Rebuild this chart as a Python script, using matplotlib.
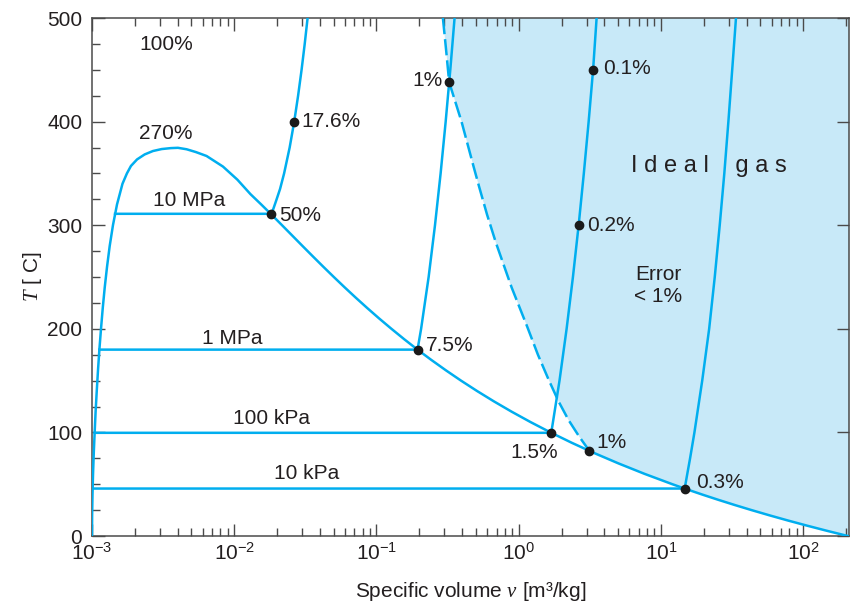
import numpy as np
import matplotlib
matplotlib.use('Agg')
import matplotlib.pyplot as plt
from matplotlib.ticker import LogLocator, MultipleLocator, NullFormatter

plt.rcParams['font.family'] = ['Liberation Sans', 'DejaVu Sans']
plt.rcParams['mathtext.fontset'] = 'custom'
plt.rcParams['mathtext.rm'] = 'Liberation Sans'
plt.rcParams['mathtext.it'] = 'Liberation Serif:italic'

# ---------------- data ----------------
# saturated liquid line (T [C], v [m3/kg])
liq_T = [0, 20, 40, 60, 80, 100, 120, 140, 160, 180, 200, 220, 240, 260, 280, 300, 320, 340,
         350, 357.2, 363.5, 368.3, 371.6, 373.5, 374.4, 374.7]
liq_v = [0.001000, 0.001002, 0.001008, 0.001017, 0.001029, 0.001044, 0.001060, 0.001080, 0.001102,
         0.001127, 0.001157, 0.001190, 0.001229, 0.001276, 0.001332, 0.001404, 0.001499, 0.001638,
         0.00176, 0.001879, 0.002074, 0.002345, 0.002682, 0.003091, 0.003576, 0.004018]
# saturated vapour line
vap_T = [373.3, 370.6, 366.8, 356.6, 343.9, 330, 320, 310, 300, 290, 280, 270, 260, 250,
         240, 230, 220, 210, 200, 190, 180, 170, 160, 150, 140, 130, 120, 110, 100, 90, 82.2, 80,
         70, 60, 50, 45.8, 40, 35, 30, 25, 20, 15, 10, 5, 0]
vap_v = [0.004624, 0.005374, 0.006390, 0.008331, 0.010531, 0.01300, 0.01548,
         0.01835, 0.02167, 0.02557, 0.03017, 0.03565, 0.04221, 0.05013, 0.05976, 0.07158, 0.08619,
         0.1044, 0.1274, 0.1565, 0.1939, 0.2428, 0.3071, 0.3928, 0.5089, 0.6685, 0.8919, 1.2102,
         1.6729, 2.3593, 3.14, 3.4053, 5.0422, 7.6670, 12.026, 14.67, 19.52, 25.21, 32.89, 43.36,
         57.79, 77.93, 106.38, 147.12, 206.14]

# isobars
isobar_labels = ['10 MPa', '1 MPa', '100 kPa', '10 kPa']
tsat = [311.0, 179.9, 99.6, 45.8]
vf_sat = [0.001452, 0.001127, 0.001043, 0.001010]
vg_sat = [0.01803, 0.1944, 1.694, 14.67]
sup_T = [[315, 320, 325, 335, 350, 375, 400, 425, 450, 475, 500],
         [200, 250, 300, 350, 400, 450, 500],
         [150, 200, 250, 300, 350, 400, 450, 500],
         [50, 75, 100, 150, 200, 250, 300, 350, 400, 450, 500]]
sup_v = [[0.01875, 0.01930, 0.01986, 0.02100, 0.02242, 0.02453, 0.02641, 0.02812, 0.02975, 0.03130, 0.03279],
         [0.2060, 0.2327, 0.2579, 0.2825, 0.3066, 0.3304, 0.3541],
         [1.936, 2.172, 2.406, 2.639, 2.870, 3.103, 3.334, 3.530],
         [14.87, 16.03, 17.20, 19.51, 21.83, 23.90, 25.90, 27.90, 29.80, 31.70, 33.70]]

# 1 % error boundary (dashed)
bnd_T = [500, 470, 438, 400, 357, 337, 310, 283, 240, 202, 175, 151, 130, 112, 96, 82.2]
bnd_v = [0.2931, 0.3083, 0.3245, 0.3963, 0.4808, 0.5272, 0.5998, 0.6918, 0.8913, 1.148,
         1.365, 1.622, 1.905, 2.239, 2.661, 3.14]

# marked points
dot_v = [0.01803, 0.02641, 0.3245, 3.334, 2.639, 0.1944, 1.694, 3.14, 14.67]
dot_T = [311.0, 400, 438, 450, 300, 179.9, 99.6, 82.2, 45.8]
dot_lab = ['50%', '17.6%', '1%', '0.1%', '0.2%', '7.5%', '1.5%', '1%', '0.3%']

XMAX = 210.0

LINE = '#00AEEF'
FILL = '#C8E9F8'
TXT = '#231F20'
AX = '#4A4A4A'

fig = plt.figure(figsize=(8.5, 6.02), dpi=100)
ax = fig.add_axes([92/850, 1-536/602, (849-92)/850, (536-18)/602])
ax.set_xscale('log')
ax.set_xlim(1e-3, XMAX)
ax.set_ylim(0, 500)

# ideal-gas region shading
poly_v = list(bnd_v) + [v for v, t in zip(vap_v, vap_T) if t < 82.2] + [XMAX, XMAX]
poly_T = list(bnd_T) + [t for t in vap_T if t < 82.2] + [0, 500]
ax.fill(poly_v, poly_T, color=FILL, lw=0, zorder=1)

lw = 1.8
# dome
ax.plot(liq_v + vap_v, liq_T + vap_T, color=LINE, lw=lw, zorder=3, solid_joinstyle='round')
# isobars
for i in range(4):
    vv = [vf_sat[i], vg_sat[i]] + sup_v[i]
    tt = [tsat[i], tsat[i]] + sup_T[i]
    ax.plot(vv, tt, color=LINE, lw=lw, zorder=3, solid_joinstyle='round')
# dashed boundary
ax.plot(bnd_v, bnd_T, color=LINE, lw=lw, dashes=(6.5, 2.0), zorder=3)

# dots
ax.plot(dot_v, dot_T, 'o', color='#1a1a1a', ms=6, zorder=5)

fs = 15
offsets = {0: (6, -1, 'left', 'center'), 1: (5, 0, 'left', 'center'), 2: (-5, 1, 'right', 'center'),
           3: (7, 1, 'left', 'center'), 4: (6, 0, 'left', 'center'), 5: (6, 3, 'left', 'center'),
           6: (-12, -14, 'center', 'center'), 7: (5, 6, 'left', 'center'), 8: (8, 4, 'left', 'center')}
for i, (v, t, lab) in enumerate(zip(dot_v, dot_T, dot_lab)):
    dx, dy, ha, va = offsets[i]
    ax.annotate(lab, (v, t), xytext=(dx, dy), textcoords='offset points', ha=ha, va=va,
                fontsize=fs, color=TXT, zorder=6)

# isobar labels
isobar_lab_v = [0.00480, 0.00961, 0.01837, 0.0324]
isobar_lab_T = [324, 191, 113, 60]
for lab, v, t in zip(isobar_labels, isobar_lab_v, isobar_lab_T):
    ax.text(v, t, lab, ha='center', va='center', fontsize=fs, color=TXT)

ax.text(0.00331, 474.8, '100%', ha='center', va='center', fontsize=fs, color=TXT)
ax.text(0.00331, 388.8, '270%', ha='center', va='center', fontsize=fs, color=TXT)
ax.text(21.9, 357, 'I d e a l    g a s', ha='center', va='center', fontsize=17, color=TXT)
ax.text(9.6, 241.8, 'Error\n< 1%', ha='center', va='center', fontsize=fs, color=TXT, linespacing=1.15)

# axes styling
for s in ax.spines.values():
    s.set_color(AX)
    s.set_linewidth(1.1)
ax.xaxis.set_major_locator(LogLocator(base=10, numticks=20))
ax.xaxis.set_minor_locator(LogLocator(base=10, subs=np.arange(2, 10), numticks=20))
ax.xaxis.set_minor_formatter(NullFormatter())
ax.yaxis.set_major_locator(MultipleLocator(100))
ax.yaxis.set_minor_locator(MultipleLocator(25))
ax.tick_params(axis='x', which='both', direction='in', top=True, bottom=True, colors=AX,
               labelcolor=TXT, labelsize=fs)
ax.tick_params(axis='y', which='major', direction='in', left=True, right=True, colors=AX,
               labelcolor=TXT, labelsize=fs)
ax.tick_params(axis='y', which='minor', direction='in', left=True, right=False, colors=AX)
ax.tick_params(which='major', length=9, width=1.0)
ax.tick_params(which='minor', length=5.5, width=1.0)
ax.tick_params(axis='x', which='major', pad=4)
ax.tick_params(axis='y', which='major', pad=7)

ax.set_ylabel('$T$ [ C]', fontsize=fs, color=TXT, labelpad=2)
ax.set_xlabel('Specific volume $v$ [m³/kg]', fontsize=fs, color=TXT, labelpad=12)

fig.savefig('out.png', dpi=100)
